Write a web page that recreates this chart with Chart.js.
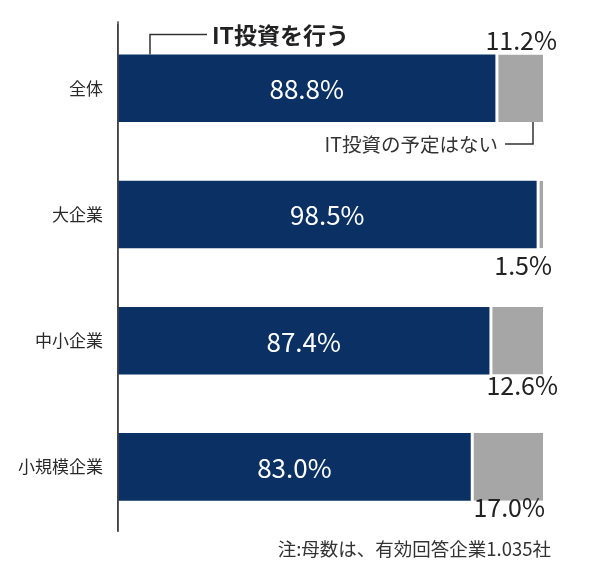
<!DOCTYPE html>
<html>
<head>
<meta charset="utf-8">
<script src="https://cdn.jsdelivr.net/npm/chart.js@4.4.1/dist/chart.umd.min.js"></script>
<style>
  html, body { margin: 0; padding: 0; background: #fff; }
  #wrap { width: 590px; height: 565px; position: relative; }
</style>
</head>
<body>
<div id="wrap"><canvas id="c" width="590" height="565"></canvas></div>
<script>
const categories = ["全体", "大企業", "中小企業", "小規模企業"];
const investYes = [88.8, 98.5, 87.4, 83.0];
const investNo = [11.2, 1.5, 12.6, 17.0];
const seriesNames = ["IT投資を行う", "IT投資の予定はない"];
const footnote = "注:母数は、有効回答企業1.035社";

const FONT = "'Noto Sans CJK JP', 'Noto Sans', sans-serif";
const BLUE = "#0a3064";
const GREY = "#a6a6a6";

// placement tweaks for the outside labels (dx from bar end, dy from bar edge)
const greyLabelPlace = [
  { side: "above", dx: 14, dy: -14 },
  { side: "below", dx: 9, dy: 17 },
  { side: "below", dx: 15, dy: 11 },
  { side: "below", dx: 2, dy: 7 }
];

const labelPlugin = {
  id: "labels",
  afterDatasetsDraw(chart) {
    const ctx = chart.ctx;
    const m0 = chart.getDatasetMeta(0);
    const m1 = chart.getDatasetMeta(1);
    ctx.save();
    ctx.textBaseline = "middle";
    // inside labels
    ctx.fillStyle = "#ffffff";
    ctx.font = "400 26px " + FONT;
    ctx.textAlign = "center";
    m0.data.forEach((bar, i) => {
      ctx.fillText(investYes[i].toFixed(1) + "%", (bar.base + bar.x) / 2, bar.y + 1);
    });
    // outside labels
    ctx.fillStyle = "#222";
    ctx.font = "400 25px " + FONT;
    ctx.textAlign = "right";
    m1.data.forEach((bar, i) => {
      const p = greyLabelPlace[i];
      const top = bar.y - bar.height / 2, bot = bar.y + bar.height / 2;
      const y = p.side === "above" ? top + p.dy : bot + p.dy;
      ctx.fillText(investNo[i].toFixed(1) + "%", bar.x + p.dx, y);
    });
    // axis line extension to match reference length
    const ca = chart.chartArea;
    ctx.strokeStyle = "#444";
    ctx.lineWidth = 1.5;
    ctx.beginPath();
    ctx.moveTo(ca.left, ca.top - 4);
    ctx.lineTo(ca.left, ca.bottom + 2);
    ctx.stroke();

    // series annotations with bracket lines
    const b0 = m0.data[0], g0 = m1.data[0];
    const top0 = b0.y - b0.height / 2, bot0 = b0.y + b0.height / 2;
    const left = ca.left;
    ctx.strokeStyle = "#333";
    ctx.lineWidth = 1.5;
    ctx.beginPath();
    ctx.moveTo(left + 32, top0);
    ctx.lineTo(left + 32, top0 - 20);
    ctx.lineTo(left + 89, top0 - 20);
    ctx.stroke();
    ctx.fillStyle = "#222";
    ctx.font = "700 23px " + FONT;
    ctx.textAlign = "left";
    ctx.fillText(seriesNames[0], left + 94, top0 - 19);

    const gx = g0.x - 10;
    ctx.beginPath();
    ctx.moveTo(gx, bot0);
    ctx.lineTo(gx, bot0 + 22);
    ctx.lineTo(gx - 28, bot0 + 22);
    ctx.stroke();
    ctx.font = "400 19.5px " + FONT;
    ctx.textAlign = "right";
    ctx.fillStyle = "#333";
    ctx.fillText(seriesNames[1], gx - 35, bot0 + 22);

    // footnote
    ctx.font = "400 18.5px " + FONT;
    ctx.fillStyle = "#333";
    ctx.textAlign = "right";
    ctx.fillText(footnote, 551, 549);
    ctx.restore();
  }
};

new Chart(document.getElementById("c"), {
  type: "bar",
  data: {
    labels: categories,
    datasets: [
      {
        label: seriesNames[0],
        data: investYes,
        backgroundColor: BLUE,
        borderWidth: 0,
        barPercentage: 0.536,
        categoryPercentage: 1
      },
      {
        label: seriesNames[1],
        data: investNo,
        backgroundColor: GREY,
        borderColor: "#ffffff",
        borderWidth: { left: 3, top: 0, right: 0, bottom: 0 },
        borderSkipped: false,
        barPercentage: 0.536,
        categoryPercentage: 1
      }
    ]
  },
  options: {
    indexAxis: "y",
    responsive: false,
    animation: false,
    devicePixelRatio: 1,
    layout: { padding: { top: 22.6, bottom: 35, left: 0, right: 47 } },
    plugins: { legend: { display: false }, tooltip: { enabled: false } },
    scales: {
      x: { stacked: true, min: 0, max: 100, display: false },
      y: {
        stacked: true,
        grid: { display: false, drawTicks: false },
        border: { display: true, color: "#444", width: 1.5 },
        ticks: { color: "#2a2a2a", font: { family: FONT, size: 17 }, padding: 15 },
        afterFit(scale) { scale.width = 118; }
      }
    }
  },
  plugins: [labelPlugin]
});
</script>
</body>
</html>
